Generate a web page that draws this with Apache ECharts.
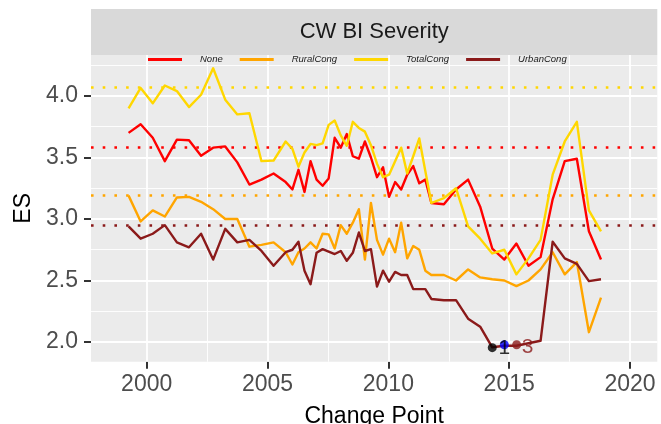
<!DOCTYPE html>
<html>
<head>
  <meta charset="utf-8">
  <title>CW BI Severity</title>
  <script src="https://cdn.jsdelivr.net/npm/echarts@6/dist/echarts.min.js"></script>
  <style>
    html, body { margin: 0; padding: 0; background: #ffffff; }
    #chart { width: 661px; height: 424px; }
  </style>
</head>
<body>
<div id="chart"></div>
<script>
  // 数据
  var seriesNames = ['None', 'RuralCong', 'TotalCong', 'UrbanCong'];
  var seriesColors = ['#FF0000', '#FFA500', '#FFD700', '#8B1A1A'];

  var years = [1999.25, 1999.75, 2000.25, 2000.75, 2001.25, 2001.75, 2002.25, 2002.75, 2003.25, 2003.75, 2004.25, 2004.75, 2005.25, 2005.75,
    2006.03, 2006.28, 2006.53, 2006.78, 2007.03, 2007.28, 2007.53, 2007.78, 2008.03, 2008.28, 2008.53, 2008.78,
    2009.03, 2009.28, 2009.53, 2009.78, 2010.03, 2010.28, 2010.53, 2010.78, 2011.03, 2011.28, 2011.53, 2011.78,
    2012.3, 2012.8, 2013.3, 2013.8, 2014.3, 2014.8, 2015.3, 2015.8, 2016.3, 2016.8, 2017.3, 2017.8, 2018.3, 2018.8];

  var noneVals = [3.70, 3.77, 3.66, 3.47, 3.645, 3.64, 3.515, 3.58, 3.59, 3.46, 3.28, 3.32, 3.37, 3.30,
    3.24, 3.40, 3.22, 3.47, 3.32, 3.27, 3.33, 3.66, 3.58, 3.69, 3.51, 3.49,
    3.63, 3.50, 3.34, 3.42, 3.18, 3.30, 3.24, 3.36, 3.43, 3.29, 3.32, 3.13,
    3.12, 3.24, 3.32, 3.10, 2.76, 2.67, 2.80, 2.62, 2.69, 3.16, 3.47, 3.49, 2.90, 2.67];

  var ruralVals = [3.19, 2.98, 3.07, 3.02, 3.175, 3.18, 3.14, 3.08, 3.00, 3.00, 2.775, 2.79, 2.81, 2.73,
    2.63, 2.73, 2.76, 2.81, 2.76, 2.88, 2.875, 2.76, 2.95, 2.88, 2.97, 3.08,
    2.67, 3.13, 2.83, 2.71, 2.84, 2.73, 2.97, 2.68, 2.78, 2.75, 2.58, 2.545,
    2.545, 2.50, 2.59, 2.525, 2.51, 2.50, 2.455, 2.50, 2.59, 2.73, 2.55, 2.65, 2.08, 2.36];

  var totalVals = [3.90, 4.065, 3.94, 4.085, 4.04, 3.91, 4.01, 4.225, 3.97, 3.85, 3.86, 3.47, 3.475, 3.63,
    3.57, 3.425, 3.54, 3.61, 3.60, 3.615, 3.765, 3.80, 3.68, 3.595, 3.79, 3.74,
    3.71, 3.60, 3.45, 3.34, 3.36, 3.47, 3.58, 3.37, 3.51, 3.655, 3.39, 3.13,
    3.17, 3.25, 2.94, 2.84, 2.72, 2.75, 2.55, 2.68, 2.83, 3.36, 3.63, 3.79, 3.07, 2.90];

  var urbanVals = [2.94, 2.84, 2.88, 2.95, 2.81, 2.77, 2.88, 2.67, 2.92, 2.81, 2.83, 2.74, 2.62, 2.73,
    2.75, 2.815, 2.58, 2.47, 2.725, 2.755, 2.735, 2.715, 2.74, 2.66, 2.725, 2.89,
    2.74, 2.755, 2.45, 2.58, 2.49, 2.57, 2.545, 2.545, 2.43, 2.43, 2.43, 2.35,
    2.34, 2.34, 2.19, 2.125, 1.957, 1.97, 1.97, 1.99, 2.01, 2.815, 2.68, 2.635, 2.495, 2.51];

  // 各组均值（虚线）
  var meanVals = [3.585, 3.185, 4.065, 2.951];

  // 变点
  var cpYears = [2014.3, 2014.8, 2015.31];
  var cpValues = [1.954, 1.978, 1.978];
  var cpColors = ['#000000', '#0000FF', '#8B1A1A'];
  var cpLabels = ['', '1', '3'];
  var cpLabelColors = ['#000000', '#000000', '#8B1A1A'];

  // 刻度
  var xTicks = [2000, 2005, 2010, 2015, 2020];
  var xMinor = [2002.5, 2007.5, 2012.5, 2017.5];
  var yTicks = [2.0, 2.5, 3.0, 3.5, 4.0];
  var yMinor = [2.25, 2.75, 3.25, 3.75, 4.25];

  var allVals = [noneVals, ruralVals, totalVals, urbanVals];

  var chart = echarts.init(document.getElementById('chart'));
  var font = 'Liberation Sans, Arial, sans-serif';

  /*背景网格线*/
  var gridLines = [];
  xTicks.forEach(function (v) { gridLines.push({ xAxis: v, lineStyle: { width: 1.8 } }); });
  xMinor.forEach(function (v) { gridLines.push({ xAxis: v, lineStyle: { width: 0.9 } }); });
  yTicks.forEach(function (v) { gridLines.push({ yAxis: v, lineStyle: { width: 1.8 } }); });
  yMinor.forEach(function (v) { gridLines.push({ yAxis: v, lineStyle: { width: 0.9 } }); });

  var series = [{
    name: 'grid',
    type: 'line',
    data: [[2010, 3]],
    symbol: 'none',
    lineStyle: { opacity: 0 },
    silent: true,
    z: 1,
    markLine: {
      silent: true,
      symbol: ['none', 'none'],
      label: { show: false },
      z: 1,
      lineStyle: { color: '#FFFFFF', type: 'solid' },
      data: gridLines
    }
  }];

  seriesNames.forEach(function (name, i) {
    series.push({
      name: name,
      type: 'line',
      data: years.map(function (y, k) { return [y, allVals[i][k]]; }),
      symbol: 'none',
      z: 3,
      lineStyle: { color: seriesColors[i], width: 2.4, join: 'round' },
      itemStyle: { color: seriesColors[i] },
      markLine: {
        silent: true,
        symbol: ['none', 'none'],
        label: { show: false },
        z: 2,
        lineStyle: { color: seriesColors[i], type: [2.6, 9.1], width: 2.6, cap: 'butt' },
        data: [{ yAxis: meanVals[i] }]
      }
    });
  });

  series.push({
    name: 'cp',
    type: 'scatter',
    z: 4,
    symbolSize: 9,
    data: cpYears.map(function (y, k) {
      return {
        value: [y, cpValues[k]],
        itemStyle: { color: cpColors[k] },
        label: {
          show: cpLabels[k] !== '',
          formatter: cpLabels[k],
          color: cpLabelColors[k],
          position: 'inside',
          offset: k === 2 ? [11, 2] : [0, 3],
          fontSize: 21,
          fontFamily: font
        }
      };
    })
  });

  var option = {
    animation: false,
    textStyle: { fontFamily: font },
    grid: {
      left: 91, right: 3.7, top: 55, bottom: 62.3,
      outerBoundsMode: 'none',
      show: true, backgroundColor: '#EBEBEB', borderWidth: 0
    },
    graphic: [
      { type: 'rect', shape: { x: 91, y: 9, width: 566.3, height: 46 }, style: { fill: '#D9D9D9' } },
      {
        type: 'text', x: 374.2, y: 32,
        style: { text: 'CW BI Severity', fontSize: 22, fontFamily: font, fill: '#1A1A1A', align: 'center', verticalAlign: 'middle' }
      }
    ],
    legend: {
      data: seriesNames.map(function (n) { return { name: n, icon: 'rect' }; }),
      left: 148, top: 54.5, padding: 0,
      itemWidth: 34, itemHeight: 3, itemGap: 17,
      textStyle: { fontSize: 9.5, fontStyle: 'italic', color: '#1A1A1A', fontFamily: font, padding: [0, 0, 0, 13] }
    },
    xAxis: {
      type: 'value',
      min: 1997.695, max: 2021.13,
      name: 'Change Point', nameLocation: 'middle', nameGap: 43,
      nameTextStyle: { fontSize: 23, color: '#000000', fontFamily: font },
      axisLine: { show: false },
      splitLine: { show: false },
      axisTick: { show: true, length: 7, customValues: xTicks, lineStyle: { color: '#333333', width: 2 } },
      axisLabel: {
        customValues: xTicks, margin: 11, fontSize: 23, color: '#4D4D4D', fontFamily: font,
        formatter: function (v) { return String(v); }
      }
    },
    yAxis: {
      type: 'value',
      min: 1.84, max: 4.333,
      name: 'ES', nameLocation: 'middle', nameGap: 52, nameRotate: 90,
      nameTextStyle: { fontSize: 23, color: '#000000', fontFamily: font },
      axisLine: { show: false },
      splitLine: { show: false },
      axisTick: { show: true, length: 7, customValues: yTicks, lineStyle: { color: '#333333', width: 2 } },
      axisLabel: {
        customValues: yTicks, margin: 13, fontSize: 23, color: '#4D4D4D', fontFamily: font,
        formatter: function (v) { return v.toFixed(1); }
      }
    },
    series: series
  };

  chart.setOption(option);
</script>
</body>
</html>
